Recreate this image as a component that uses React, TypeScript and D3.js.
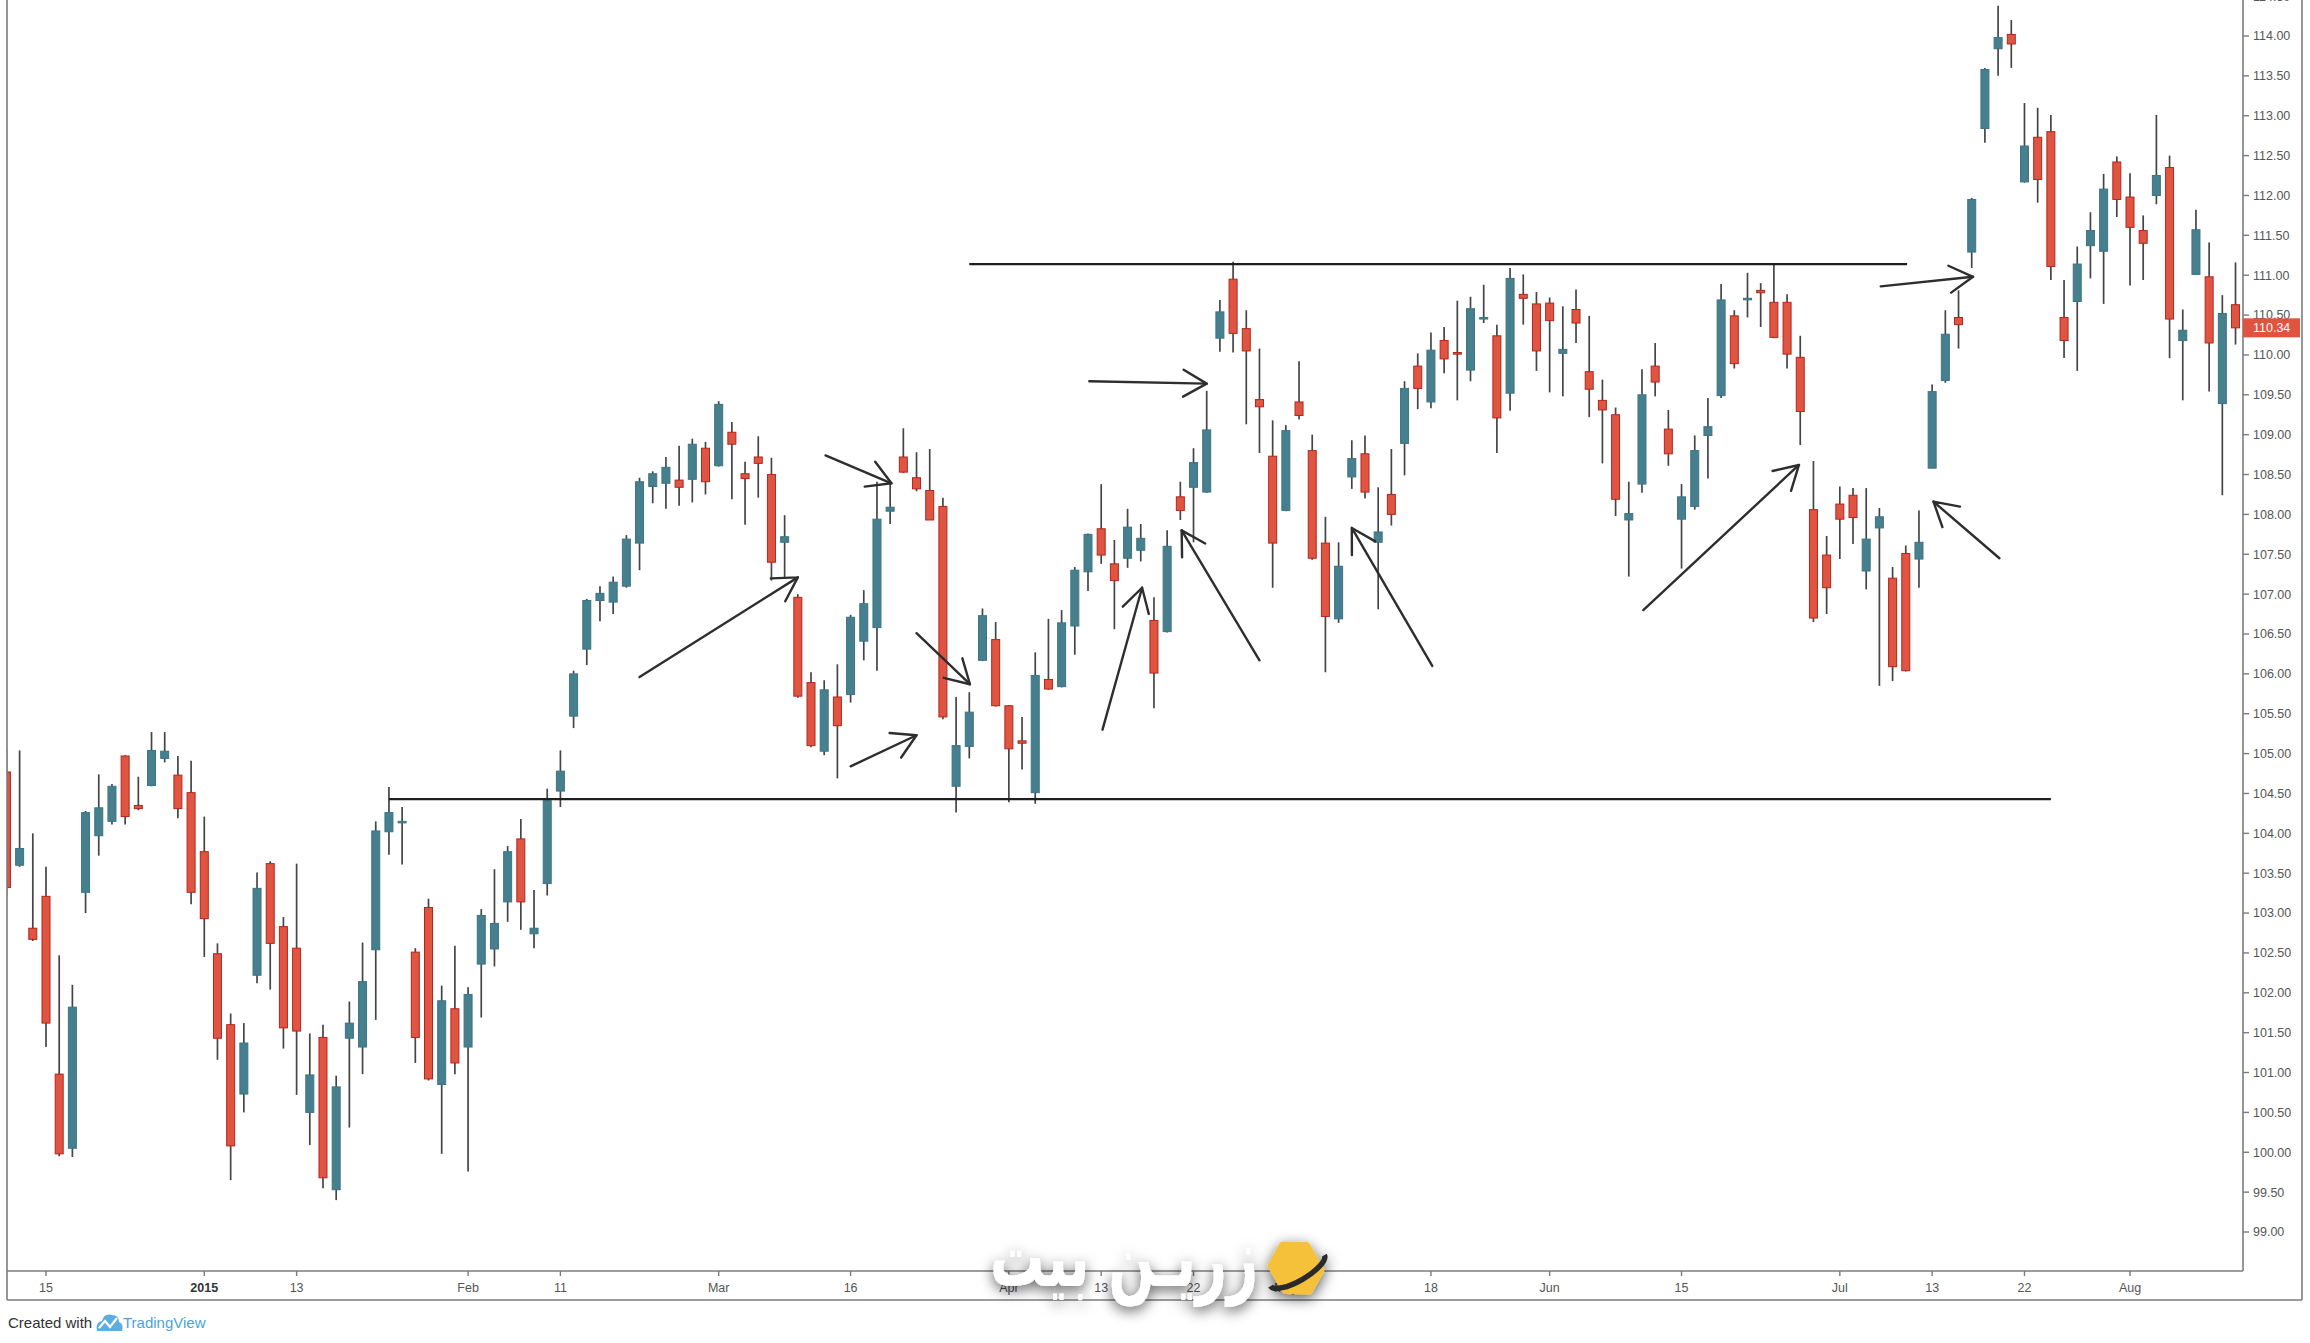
import { useEffect } from 'react';
import * as d3 from 'd3';

// daily bars, index 0 = Dec 15 2014 (US trading days)
const firstBar = -3;
const opens = [
  104.77, 103.60, 102.81, 103.21, 100.98, 100.05, 103.26, 103.97, 104.15, 104.97,
  104.35, 104.60, 104.94, 104.73, 104.51, 103.77, 102.49, 101.60, 100.73, 102.22,
  103.62, 102.83, 102.56, 100.50, 101.44, 99.53, 101.43, 101.32, 102.54, 104.02,
  104.14, 102.51, 103.07, 100.85, 101.80, 101.32, 102.36, 102.55, 103.14, 103.93,
  102.74, 103.37, 104.53, 105.47, 106.31, 106.92, 106.90, 107.10, 107.64, 108.35,
  108.39, 108.43, 108.44, 108.83, 108.61, 109.03, 108.51, 108.72, 108.50, 107.65,
  106.96, 105.89, 105.03, 105.71, 105.74, 106.41, 106.58, 108.04, 108.72, 108.46,
  108.30, 108.10, 104.59, 105.09, 106.17, 106.43, 105.60, 105.16, 104.51, 105.93,
  105.84, 106.60, 107.28, 107.82, 107.38, 107.45, 107.55, 106.67, 106.53, 108.22,
  108.34, 108.28, 110.21, 110.95, 110.33, 109.44, 108.73, 108.05, 109.41, 108.80,
  107.64, 106.69, 108.47, 108.76, 107.65, 108.25, 108.89, 109.86, 109.41, 110.18,
  110.03, 109.81, 110.45, 110.24, 109.52, 110.76, 110.64, 110.65, 110.02, 110.57,
  109.79, 109.43, 109.25, 107.93, 108.38, 109.86, 109.07, 107.94, 108.10, 108.99,
  109.49, 110.49, 110.70, 110.81, 110.66, 110.66, 109.97, 108.06, 107.49, 108.13,
  108.24, 107.29, 107.83, 107.20, 107.51, 107.44, 108.58, 109.68, 110.47, 111.29,
  112.84, 113.84, 114.02, 112.17, 112.73, 112.80, 110.47, 110.67, 111.37, 111.30,
  112.42, 111.98, 111.56, 112.00, 112.35, 110.18, 111.01, 110.98, 109.39, 110.63,
];
const highs = [
  105.05, 105.04, 104.00, 103.58, 102.47, 102.10, 104.28, 104.74, 104.62, 104.98,
  104.71, 105.27, 105.27, 104.97, 104.91, 104.21, 102.62, 101.74, 101.62, 103.51,
  103.65, 102.95, 103.62, 101.49, 101.60, 100.96, 101.89, 102.63, 104.15, 104.58,
  104.33, 102.56, 103.18, 102.09, 102.59, 102.07, 103.05, 103.55, 103.84, 104.18,
  103.29, 104.56, 105.04, 106.04, 106.94, 107.10, 107.22, 107.74, 108.46, 108.54,
  108.72, 108.86, 108.95, 108.91, 109.42, 109.16, 108.66, 108.98, 108.71, 107.99,
  107.00, 106.02, 105.92, 106.12, 106.74, 107.05, 108.41, 108.41, 109.08, 108.78,
  108.82, 108.21, 105.71, 105.77, 106.82, 106.65, 105.61, 105.46, 106.27, 106.69,
  106.80, 107.34, 107.76, 108.38, 107.68, 108.07, 107.88, 106.96, 107.80, 108.41,
  108.83, 109.55, 110.69, 111.17, 110.56, 110.08, 109.18, 109.12, 109.92, 109.00,
  107.97, 107.65, 108.93, 108.99, 108.34, 108.82, 109.67, 110.02, 110.28, 110.35,
  110.68, 110.73, 110.88, 110.38, 111.09, 111.01, 110.79, 110.72, 110.61, 110.82,
  110.49, 109.69, 109.34, 108.41, 109.82, 110.15, 109.31, 108.38, 108.99, 109.46,
  110.89, 110.56, 111.03, 110.90, 111.14, 110.76, 110.24, 108.67, 107.73, 108.35,
  108.33, 108.33, 108.08, 107.34, 107.61, 108.05, 109.63, 110.56, 110.81, 111.97,
  113.60, 114.38, 114.20, 113.16, 113.10, 113.01, 110.94, 111.36, 111.79, 112.27,
  112.49, 112.28, 111.75, 113.01, 112.50, 110.57, 111.82, 111.41, 110.75, 111.16,
];
const lows = [
  103.20, 103.58, 102.65, 101.32, 99.95, 99.94, 103.00, 103.72, 104.11, 104.11,
  104.29, 104.59, 104.89, 104.19, 103.11, 102.45, 101.16, 99.65, 100.50, 102.12,
  102.04, 101.30, 100.72, 100.09, 99.55, 99.40, 100.31, 100.98, 101.66, 103.73,
  103.61, 101.12, 100.90, 99.98, 100.98, 99.76, 101.69, 102.33, 102.89, 102.79,
  102.56, 103.22, 104.33, 105.32, 106.11, 106.66, 106.75, 107.08, 107.30, 108.14,
  108.07, 108.11, 108.15, 108.25, 108.60, 108.19, 107.87, 108.21, 107.17, 107.20,
  105.70, 105.08, 104.98, 104.69, 105.64, 106.17, 106.04, 107.88, 108.52, 108.29,
  107.93, 105.43, 104.26, 104.94, 106.16, 105.59, 104.39, 104.80, 104.37, 105.80,
  105.83, 106.24, 107.04, 107.38, 106.56, 107.33, 107.41, 105.57, 106.52, 107.93,
  107.65, 108.27, 110.04, 110.03, 109.13, 108.77, 107.08, 108.04, 109.19, 107.43,
  106.02, 106.64, 108.32, 108.20, 106.81, 107.86, 108.49, 109.32, 109.33, 109.77,
  109.43, 109.67, 110.40, 108.77, 109.30, 110.38, 109.80, 109.53, 109.48, 110.15,
  109.22, 108.64, 107.98, 107.22, 108.27, 109.48, 108.61, 107.32, 108.06, 108.45,
  109.46, 109.83, 110.47, 110.35, 110.21, 109.83, 108.87, 106.65, 106.75, 107.44,
  107.63, 107.06, 105.85, 105.91, 106.03, 107.08, 108.58, 109.65, 110.08, 111.09,
  112.66, 113.50, 113.60, 112.16, 111.91, 110.94, 109.96, 109.80, 110.96, 110.64,
  111.73, 110.87, 110.94, 111.89, 109.96, 109.43, 111.01, 109.54, 108.24, 110.13,
];
const closes = [
  103.32, 103.81, 102.67, 101.62, 99.98, 101.82, 104.26, 104.32, 104.59, 104.21,
  104.31, 105.04, 105.03, 104.31, 103.26, 102.93, 101.43, 100.08, 101.37, 103.31,
  102.62, 101.56, 101.52, 100.97, 99.68, 100.82, 101.62, 102.14, 104.03, 104.26,
  104.15, 101.44, 100.92, 101.90, 101.12, 101.98, 102.97, 102.87, 103.77, 103.14,
  102.81, 104.41, 104.78, 106.00, 106.92, 107.01, 107.15, 107.69, 108.41, 108.51,
  108.59, 108.34, 108.88, 108.41, 109.38, 108.88, 108.45, 108.64, 107.40, 107.72,
  105.72, 105.10, 105.80, 105.35, 106.71, 106.88, 107.94, 108.09, 108.53, 108.32,
  107.93, 105.46, 105.10, 105.52, 106.73, 105.60, 105.06, 105.13, 105.98, 105.81,
  106.64, 107.30, 107.75, 107.49, 107.17, 107.84, 107.70, 106.01, 107.60, 108.05,
  108.65, 109.06, 110.54, 110.27, 110.05, 109.35, 107.64, 109.05, 109.24, 107.45,
  106.72, 107.35, 108.70, 108.28, 107.78, 108.00, 109.58, 109.58, 110.06, 109.95,
  110.01, 110.58, 110.47, 109.21, 110.96, 110.71, 110.05, 110.43, 110.07, 110.40,
  109.57, 109.31, 108.19, 108.01, 109.50, 109.66, 108.76, 108.22, 108.80, 109.10,
  110.69, 109.89, 110.71, 110.78, 110.22, 110.01, 109.29, 106.70, 107.08, 107.94,
  107.96, 107.69, 107.97, 106.09, 106.04, 107.65, 109.54, 110.26, 110.38, 111.95,
  113.58, 113.98, 113.90, 112.62, 112.20, 111.11, 110.18, 111.14, 111.56, 112.08,
  111.95, 111.60, 111.40, 112.25, 110.45, 110.31, 111.57, 110.15, 110.52, 110.34,
];

const tickBars = [0, 12, 19, 32, 39, 51, 61, 73, 80, 87, 94, 105, 114, 124, 136, 143, 150, 158];
const tickLabels = ['15', '2015', '13', 'Feb', '11', 'Mar', '16', 'Apr', '13', '22', 'May', '18', 'Jun', '15', 'Jul', '13', '22', 'Aug'];

// drawn levels: [fromBar, toBar, price]
const levels = [
  [70, 141.1, 111.14],
  [26, 152, 104.43],
];
// hand drawn arrows: [tailBar, tailPrice, tipBar, tipPrice]
const arrows = [
  [45.0, 105.96, 57.0, 107.21],
  [59.1, 108.74, 64.1, 108.39],
  [61.0, 104.84, 66.0, 105.23],
  [66.0, 106.51, 70.05, 105.87],
  [80.1, 105.3, 83.1, 107.08],
  [79.1, 109.67, 88.0, 109.64],
  [92.0, 106.17, 86.1, 107.8],
  [105.1, 106.1, 99.0, 107.83],
  [121.1, 106.8, 132.9, 108.62],
  [139.1, 110.86, 146.1, 110.98],
  [148.1, 107.45, 143.1, 108.16],
];

const W = 2310;
const H = 1343;
const plotLeft = 7;
const plotRight = 2243;
const plotBottom = 1271;
const frameRight = 2302;
const frameBottom = 1300;

const UP = '#46808f';
const UP_EDGE = '#3d7482';
const DOWN = '#e05541';
const DOWN_EDGE = '#b3261e';

export default function App() {
  useEffect(() => {
    document.body.style.margin = '0';
    document.body.style.background = '#fff';
  }, []);

  const x = d3.scaleLinear().domain([0, 158]).range([46, 2130]);
  const y = d3.scaleLinear().domain([99, 114]).range([1232, 36]);
  const bodyW = 8;

  const candles = opens.map((o, k) => ({
    i: firstBar + k,
    o,
    h: highs[k],
    l: lows[k],
    c: closes[k],
  }));

  const priceTicks = d3.range(99, 114.51, 0.5);
  const lastClose = closes[closes.length - 1];

  const arrowHead = (tx: number, ty: number, fx: number, fy: number) => {
    const ang = Math.atan2(fy - ty, fx - tx);
    const len = 27;
    const spread = (30 * Math.PI) / 180;
    return [ang - spread, ang + spread]
      .map((t) => `M${tx + len * Math.cos(t)},${ty + len * Math.sin(t)}L${tx},${ty}`)
      .join('');
  };

  return (
    <svg
      width={W}
      height={H}
      style={{ display: 'block' }}
      fontFamily="'Liberation Sans', Arial, sans-serif"
    >
      <defs>
        <clipPath id="plotClip">
          <rect x={plotLeft} y={0} width={plotRight - plotLeft} height={plotBottom} />
        </clipPath>
        <filter id="wmShadow" x="-20%" y="-60%" width="140%" height="220%">
          <feDropShadow dx="0" dy="4" stdDeviation="7" floodColor="#000" floodOpacity="0.65" />
        </filter>
      </defs>
      <rect x={0} y={0} width={W} height={H} fill="#ffffff" />

      <g clipPath="url(#plotClip)">
        {candles.map((d) => {
          const cx = x(d.i);
          const up = d.c >= d.o;
          const top = y(Math.max(d.o, d.c));
          const bh = Math.max(1.5, Math.abs(y(d.o) - y(d.c)));
          return (
            <g key={d.i}>
              <line x1={cx} x2={cx} y1={y(d.h)} y2={y(d.l)} stroke="#454545" strokeWidth={1.7} />
              <rect
                x={cx - bodyW / 2}
                y={top}
                width={bodyW}
                height={bh}
                fill={up ? UP : DOWN}
                stroke={up ? UP_EDGE : DOWN_EDGE}
                strokeWidth={1}
              />
            </g>
          );
        })}

        {levels.map(([a, b, p], k) => (
          <line key={k} x1={x(a)} x2={x(b)} y1={y(p)} y2={y(p)} stroke="#1e1e1e" strokeWidth={2.2} />
        ))}

        {arrows.map(([ta, tp, ha, hp], k) => {
          const x0 = x(ta);
          const y0 = y(tp);
          const x1 = x(ha);
          const y1 = y(hp);
          return (
            <g key={k} stroke="#2e2e2e" strokeWidth={2.4} fill="none" strokeLinecap="round">
              <line x1={x0} y1={y0} x2={x1} y2={y1} />
              <path d={arrowHead(x1, y1, x0, y0)} />
            </g>
          );
        })}
      </g>

      {/* frame */}
      <g stroke="#7c7c7c" strokeWidth={1.6} fill="none">
        <line x1={plotLeft} x2={plotLeft} y1={0} y2={frameBottom} />
        <line x1={plotRight} x2={plotRight} y1={0} y2={plotBottom} />
        <line x1={frameRight} x2={frameRight} y1={0} y2={frameBottom} />
        <line x1={plotLeft} x2={plotRight} y1={plotBottom} y2={plotBottom} />
        <line x1={plotLeft} x2={frameRight} y1={frameBottom} y2={frameBottom} />
      </g>

      {/* price axis */}
      <g>
        {priceTicks.map((p) => (
          <g key={p} transform={`translate(0,${y(p)})`}>
            <line x1={plotRight} x2={plotRight + 6} stroke="#7c7c7c" strokeWidth={1.4} />
            <text x={2253} dy="0.35em" fontSize={12.5} fill="#555">
              {p.toFixed(2)}
            </text>
          </g>
        ))}
        <rect x={plotRight} y={y(lastClose) - 9.5} width={57} height={19} fill="#e0533f" />
        <text x={2253} y={y(lastClose)} dy="0.36em" fontSize={12.5} fill="#fff">
          {lastClose.toFixed(2)}
        </text>
      </g>

      {/* time axis */}
      <g>
        {tickBars.map((b, k) => (
          <g key={k} transform={`translate(${x(b)},0)`}>
            <line y1={plotBottom} y2={plotBottom + 5} stroke="#7c7c7c" strokeWidth={1.4} />
            <text
              y={1292}
              textAnchor="middle"
              fontSize={12.5}
              fill={tickLabels[k] === '2015' ? '#333' : '#555'}
              fontWeight={tickLabels[k] === '2015' ? 'bold' : 'normal'}
            >
              {tickLabels[k]}
            </text>
          </g>
        ))}
      </g>

      {/* watermark */}
      <g filter="url(#wmShadow)">
        <text
          x={1258}
          y={1286}
          textAnchor="end"
          fontFamily="'DejaVu Sans', sans-serif"
          fontWeight="bold"
          fontSize={84}
          fill="#ffffff"
          textLength={268}
          lengthAdjust="spacingAndGlyphs"
        >
          زریـن بیت
        </text>
        <g transform="translate(1296,1268) rotate(-30)">
          <path
            d="M-20,-14 L0,-26 L20,-14 L20,14 L0,26 L-20,14 Z"
            fill="#f5c13a"
            stroke="#f5c13a"
            strokeWidth={8}
            strokeLinejoin="round"
          />
          <path d="M-31,3 A31 10 0 0 0 31,3" fill="none" stroke="#2a2a2a" strokeWidth={5.5} />
        </g>
      </g>

      {/* footer */}
      <text x={8} y={1328} fontSize={15} fill="#333">
        Created with
      </text>
      <g>
        <path
          d="M97,1331 Q95,1322 102,1321 Q104,1313 112,1315 Q119,1315 119,1322 Q124,1324 122,1331 Z"
          fill="#5aaee0"
        />
        <polyline points="99,1328 105,1321 110,1327 117,1318" fill="none" stroke="#fff" strokeWidth={2.2} />
      </g>
      <text x={123} y={1328} fontSize={15} fill="#4ba3d9">
        TradingView
      </text>
    </svg>
  );
}
